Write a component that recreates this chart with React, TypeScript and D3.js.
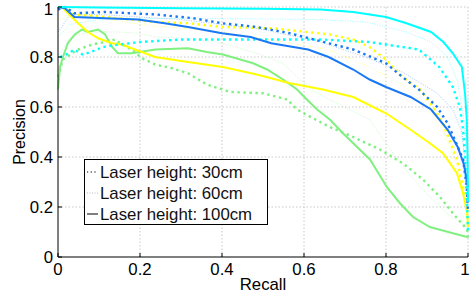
import React, { useEffect, useRef } from 'react';
import * as d3 from 'd3';

type Pt = [number, number];

// [recall, precision]
const cyan100: Pt[] = [[0, 1], [0.1, 0.998], [0.3, 0.995], [0.5, 0.993], [0.64, 0.99], [0.72, 0.98], [0.8, 0.96], [0.85, 0.935], [0.91, 0.9], [0.94, 0.86], [0.963, 0.815], [0.985, 0.76], [0.993, 0.65], [0.997, 0.55], [0.999, 0.4], [1, 0.22]];
const cyan30: Pt[] = [[0.005, 0.8], [0.02, 0.81], [0.04, 0.83], [0.06, 0.81], [0.08, 0.82], [0.11, 0.84], [0.15, 0.85], [0.2, 0.86], [0.3, 0.87], [0.45, 0.87], [0.64, 0.87], [0.76, 0.86], [0.88, 0.83], [0.93, 0.76], [0.963, 0.68], [0.98, 0.6], [0.988, 0.51], [0.993, 0.4], [0.997, 0.25], [1, 0.1]];
const cyan60: Pt[] = [[0, 0.88], [0.03, 0.93], [0.1, 0.95], [0.3, 0.955], [0.64, 0.95], [0.75, 0.94], [0.85, 0.9], [0.91, 0.86], [0.95, 0.8], [0.975, 0.7], [0.99, 0.55], [1, 0.3]];

const blue100: Pt[] = [[0, 1], [0.017, 0.995], [0.04, 0.96], [0.115, 0.955], [0.195, 0.95], [0.26, 0.935], [0.317, 0.92], [0.4, 0.895], [0.47, 0.88], [0.52, 0.855], [0.61, 0.83], [0.66, 0.8], [0.72, 0.75], [0.76, 0.71], [0.8, 0.68], [0.86, 0.64], [0.91, 0.59], [0.95, 0.51], [0.975, 0.44], [0.99, 0.37], [1, 0.28]];
const blue30: Pt[] = [[0, 0.99], [0.017, 1], [0.04, 0.975], [0.115, 0.98], [0.24, 0.97], [0.33, 0.955], [0.4, 0.935], [0.485, 0.92], [0.565, 0.895], [0.66, 0.855], [0.72, 0.83], [0.8, 0.775], [0.84, 0.72], [0.88, 0.67], [0.925, 0.6], [0.95, 0.535], [0.965, 0.48], [0.988, 0.39], [0.997, 0.28], [1, 0.18]];
const blue60: Pt[] = [[0, 0.9], [0.03, 0.97], [0.1, 0.97], [0.3, 0.95], [0.5, 0.91], [0.64, 0.86], [0.75, 0.8], [0.84, 0.74], [0.88, 0.7], [0.925, 0.655], [0.963, 0.59], [0.985, 0.5], [0.995, 0.35], [1, 0.22]];

const yellow100: Pt[] = [[0.01, 1], [0.024, 0.975], [0.049, 0.935], [0.073, 0.9], [0.098, 0.875], [0.132, 0.855], [0.156, 0.85], [0.188, 0.83], [0.237, 0.8], [0.317, 0.78], [0.402, 0.76], [0.485, 0.73], [0.566, 0.695], [0.646, 0.67], [0.72, 0.64], [0.8, 0.575], [0.859, 0.51], [0.907, 0.455], [0.939, 0.415], [0.973, 0.335], [0.988, 0.255], [0.998, 0.175], [1, 0.12]];
const yellow30: Pt[] = [[0.01, 1], [0.041, 0.97], [0.115, 0.96], [0.237, 0.94], [0.317, 0.935], [0.4, 0.92], [0.524, 0.915], [0.607, 0.9], [0.663, 0.89], [0.72, 0.87], [0.76, 0.84], [0.8, 0.79], [0.84, 0.72], [0.883, 0.67], [0.915, 0.6], [0.939, 0.535], [0.973, 0.39], [0.988, 0.28], [0.998, 0.19], [1, 0.12]];
const yellow60: Pt[] = [[0, 0.95], [0.05, 0.97], [0.2, 0.93], [0.4, 0.9], [0.55, 0.86], [0.66, 0.83], [0.76, 0.76], [0.84, 0.69], [0.9, 0.6], [0.94, 0.5], [0.97, 0.38], [0.99, 0.25], [1, 0.15]];

const green100: Pt[] = [[0, 0.67], [0.005, 0.76], [0.012, 0.8], [0.024, 0.855], [0.041, 0.89], [0.059, 0.91], [0.073, 0.9], [0.098, 0.91], [0.115, 0.89], [0.132, 0.84], [0.146, 0.815], [0.18, 0.815], [0.237, 0.83], [0.317, 0.835], [0.363, 0.82], [0.402, 0.81], [0.476, 0.775], [0.51, 0.75], [0.549, 0.71], [0.583, 0.67], [0.607, 0.63], [0.632, 0.59], [0.663, 0.55], [0.695, 0.495], [0.72, 0.455], [0.761, 0.39], [0.802, 0.28], [0.834, 0.215], [0.866, 0.16], [0.907, 0.12], [0.963, 0.095], [0.998, 0.08]];
const green30: Pt[] = [[0, 0.72], [0.012, 0.79], [0.034, 0.815], [0.049, 0.83], [0.066, 0.84], [0.083, 0.85], [0.115, 0.86], [0.139, 0.87], [0.156, 0.85], [0.18, 0.83], [0.205, 0.795], [0.237, 0.77], [0.278, 0.755], [0.317, 0.735], [0.363, 0.69], [0.42, 0.66], [0.5, 0.655], [0.559, 0.63], [0.583, 0.59], [0.622, 0.555], [0.663, 0.52], [0.72, 0.48], [0.785, 0.43], [0.841, 0.375], [0.89, 0.31], [0.932, 0.24], [0.963, 0.175], [0.998, 0.11], [1, 0.07]];
const green60: Pt[] = [[0, 0.8], [0.03, 0.88], [0.08, 0.9], [0.15, 0.9], [0.195, 0.895], [0.237, 0.88], [0.317, 0.875], [0.402, 0.855], [0.485, 0.815], [0.549, 0.775], [0.59, 0.71], [0.632, 0.655], [0.76, 0.55], [0.817, 0.415], [0.883, 0.28], [0.949, 0.175], [0.998, 0.12]];

const xTicks = [0, 0.2, 0.4, 0.6, 0.8, 1];
const yTicks = [0, 0.2, 0.4, 0.6, 0.8, 1];
const legendLabels = ['Laser height: 30cm', 'Laser height: 60cm', 'Laser height: 100cm'];

const CYAN = '#00ffff';
const BLUE = '#1a78f5';
const YELLOW = '#ffff00';
const GREEN = '#80f080';

const W = 471;
const H = 297;
const FONT = '"Liberation Sans", Arial, sans-serif';

export default function App() {
  const svgRef = useRef<SVGSVGElement>(null);

  useEffect(() => {
    if (!svgRef.current) return;
    const svg = d3.select(svgRef.current);
    svg.selectAll('*').remove();

    const x = d3.scaleLinear().domain([0, 1]).range([58, 468]);
    const y = d3.scaleLinear().domain([0, 1]).range([257, 7]);
    const sx = 1.05; // text looks a bit stretched sideways

    // grid
    const grid = svg.append('g');
    xTicks.slice(1).forEach(t => {
      grid.append('line').attr('x1', x(t)).attr('x2', x(t)).attr('y1', y(0)).attr('y2', y(1))
        .attr('stroke', '#c8c8c8').attr('stroke-dasharray', '1.5,2');
    });
    yTicks.slice(1).forEach(t => {
      grid.append('line').attr('x1', x(0)).attr('x2', x(1)).attr('y1', y(t)).attr('y2', y(t))
        .attr('stroke', '#c8c8c8').attr('stroke-dasharray', '1.5,2');
    });

    const line = d3.line<Pt>().x(d => x(d[0])).y(d => y(d[1]));
    const draw = (data: Pt[], color: string, kind: 'dot' | 'faint' | 'solid') => {
      const p = svg.append('path').attr('d', line(data)).attr('fill', 'none').attr('stroke', color);
      if (kind === 'solid') p.attr('stroke-width', 2);
      if (kind === 'dot') p.attr('stroke-width', 2.4).attr('stroke-dasharray', '2.4,3.6');
      if (kind === 'faint') p.attr('stroke-width', 1).attr('stroke-dasharray', '1,1.5').attr('stroke-opacity', 0.4);
    };

    draw(green60, GREEN, 'faint');
    draw(yellow60, YELLOW, 'faint');
    draw(blue60, BLUE, 'faint');
    draw(cyan60, CYAN, 'faint');
    draw(green30, GREEN, 'dot');
    draw(green100, GREEN, 'solid');
    draw(yellow30, YELLOW, 'dot');
    draw(yellow100, YELLOW, 'solid');
    draw(cyan30, CYAN, 'dot');
    draw(blue30, BLUE, 'dot');
    draw(blue100, BLUE, 'solid');
    draw(cyan100, CYAN, 'solid');

    // axes
    svg.append('line').attr('x1', x(0)).attr('x2', x(1)).attr('y1', y(0)).attr('y2', y(0)).attr('stroke', '#000');
    svg.append('line').attr('x1', x(0)).attr('x2', x(0)).attr('y1', y(0)).attr('y2', y(1)).attr('stroke', '#000');
    xTicks.forEach(t => {
      svg.append('line').attr('x1', x(t)).attr('x2', x(t)).attr('y1', y(0)).attr('y2', y(0) - 4).attr('stroke', '#000');
      svg.append('text').attr('transform', `translate(${Math.min(x(t), 465)},275) scale(${sx},1)`)
        .attr('text-anchor', 'middle').attr('font-size', 16).attr('font-family', FONT).text(String(t));
    });
    yTicks.forEach(t => {
      svg.append('line').attr('x1', x(0)).attr('x2', x(0) + 4).attr('y1', y(t)).attr('y2', y(t)).attr('stroke', '#000');
      svg.append('text').attr('transform', `translate(53,${Math.max(y(t) + 6, 15)}) scale(${sx},1)`)
        .attr('text-anchor', 'end').attr('font-size', 16).attr('font-family', FONT).text(String(t));
    });

    svg.append('text').attr('transform', `translate(${(x(0) + x(1)) / 2},290) scale(${sx},1)`)
      .attr('text-anchor', 'middle').attr('font-size', 16).attr('font-family', FONT).text('Recall');
    svg.append('text').attr('transform', `translate(25,${(y(0) + y(1)) / 2}) rotate(-90) scale(1,${sx})`)
      .attr('text-anchor', 'middle').attr('font-size', 16).attr('font-family', FONT).text('Precision');

    // legend
    const lg = svg.append('g');
    lg.append('rect').attr('x', 84.5).attr('y', 159.5).attr('width', 183).attr('height', 65)
      .attr('fill', '#fff').attr('stroke', '#000');
    legendLabels.forEach((lab, i) => {
      const ly = 172 + i * 21;
      const l = lg.append('line').attr('x1', 87).attr('x2', 98).attr('y1', ly).attr('y2', ly).attr('stroke', '#000');
      if (i === 0) l.attr('stroke-dasharray', '1.2,2.5');
      if (i === 1) l.attr('stroke-dasharray', '1,1.5').attr('stroke', '#bbb');
      lg.append('text').attr('transform', `translate(100,${ly + 6}) scale(${sx},1)`)
        .attr('font-size', 16).attr('font-family', FONT).attr('fill', '#111').text(lab);
    });
  }, []);

  return (
    <svg ref={svgRef} width={W} height={H} viewBox={`0 0 ${W} ${H}`}
      style={{ position: 'absolute', left: 0, top: 0, background: '#fff' }} />
  );
}
